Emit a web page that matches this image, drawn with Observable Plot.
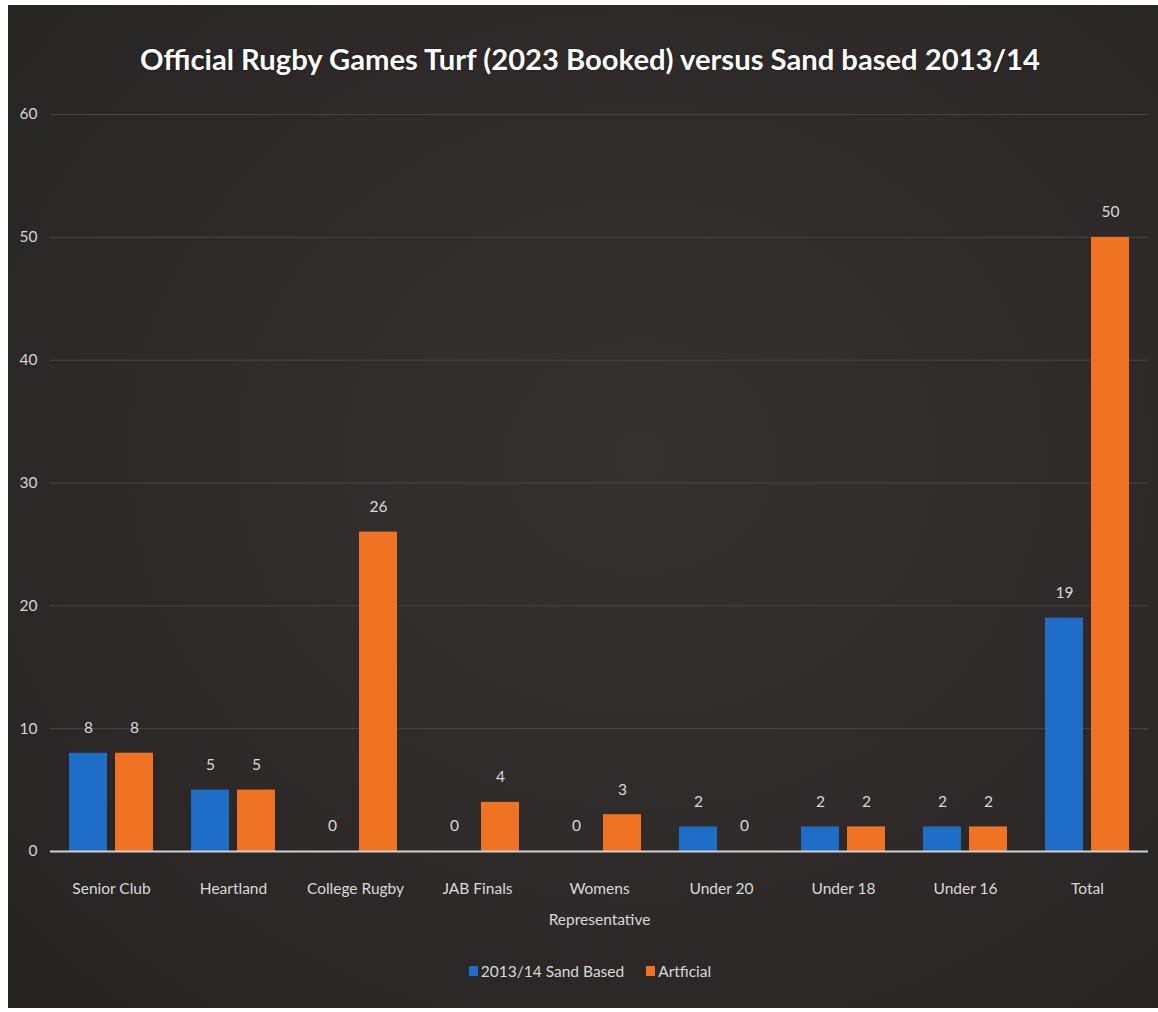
<!DOCTYPE html>
<html>
<head>
<meta charset="utf-8">
<script src="https://cdn.jsdelivr.net/npm/d3@7"></script>
<script src="https://cdn.jsdelivr.net/npm/@observablehq/plot@0.6"></script>
<style>
  html, body { margin: 0; padding: 0; background: #ffffff; }
  #frame {
    position: absolute; left: 8px; top: 5px; width: 1150px; height: 1003px;
    background: radial-gradient(ellipse at 55% 45%, #363232 0%, #2e2a2a 55%, #262323 100%);
    overflow: hidden;
    font-family: Lato, "Open Sans", sans-serif;
  }
  #title {
    position: absolute; top: 36px; left: 0; width: 1164px; text-align: center;
    color: #ffffff; font-weight: 700; font-size: 28px; white-space: nowrap;
    text-shadow: 0 0 2px rgba(0,0,0,0.6);
  }
  #title span { display: inline-block; }
  #chart { position: absolute; left: 0; top: 85px; }
  #legend {
    position: absolute; top: 957px; left: 0; width: 1164px;
    display: flex; justify-content: center; align-items: center; gap: 22px;
    color: #d9d9d9; font-size: 15.5px;
  }
  .item { display: flex; align-items: center; gap: 3px; }
  .sw { width: 9px; height: 10px; display: inline-block; }
</style>
</head>
<body>
<div id="frame">
  <div id="title"><span id="titleText">Official Rugby Games Turf (2023 Booked) versus Sand based 2013/14</span></div>
  <div id="chart"></div>
  <div id="legend"></div>
</div>
<script>
const categories = ["Senior Club", "Heartland", "College Rugby", "JAB Finals", "Womens\nRepresentative", "Under 20", "Under 18", "Under 16", "Total"];
const series = ["2013/14 Sand Based", "Artficial"];
const sandBased = [8, 5, 0, 0, 0, 2, 2, 2, 19];
const artificial = [8, 5, 26, 4, 3, 0, 2, 2, 50];
const yTicks = [0, 10, 20, 30, 40, 50, 60];
const colors = ["#1e6ec8", "#f07323"];

const data = categories.flatMap((c, i) => [
  {category: c, series: series[0], value: sandBased[i]},
  {category: c, series: series[1], value: artificial[i]}
]);

const chart = Plot.plot({
  width: 1150,
  height: 850,
  marginTop: 24,
  marginBottom: 89,
  marginLeft: 41,
  marginRight: 9,
  style: {background: "transparent", color: "#d4d4d4", fontFamily: "Lato, 'Open Sans', sans-serif", fontSize: "15.5px"},
  fx: {domain: categories, padding: 0, label: null},
  x: {domain: series, paddingInner: 0.17, paddingOuter: 0.385, axis: null},
  y: {domain: [0, 60], label: null},
  color: {domain: series, range: colors},
  marks: [
    Plot.gridY(yTicks, {stroke: "#4a4545", strokeOpacity: 1, strokeWidth: 1}),
    Plot.axisY(yTicks, {anchor: "left", tickSize: 0, tickPadding: 13, label: null, fill: "#d4d4d4", fontSize: 15.5}),
    Plot.axisFx({anchor: "bottom", tickSize: 0, tickPadding: 20, label: null, lineHeight: 2.0, fill: "#d9d9d9", fontSize: 15.5}),
    Plot.barY(data, {fx: "category", x: "series", y: "value", fill: "series"}),
    Plot.ruleY([0], {stroke: "#cfcfcf", strokeWidth: 2}),
    Plot.text(data, {fx: "category", x: "series", y: "value", text: d => String(d.value), dy: -25, fill: "#d9d9d9", fontSize: 15.5})
  ]
});
document.getElementById("chart").appendChild(chart);

const legend = document.getElementById("legend");
series.forEach((s, i) => {
  const item = document.createElement("div");
  item.className = "item";
  const sw = document.createElement("span");
  sw.className = "sw";
  sw.style.background = colors[i];
  const t = document.createElement("span");
  t.textContent = s;
  item.appendChild(sw);
  item.appendChild(t);
  legend.appendChild(item);
});

// fit title width to ~900px
const tt = document.getElementById("titleText");
const w = tt.getBoundingClientRect().width;
if (w > 0) {
  const fs = 28 * 900 / w;
  document.getElementById("title").style.fontSize = fs.toFixed(2) + "px";
}
</script>
</body>
</html>
